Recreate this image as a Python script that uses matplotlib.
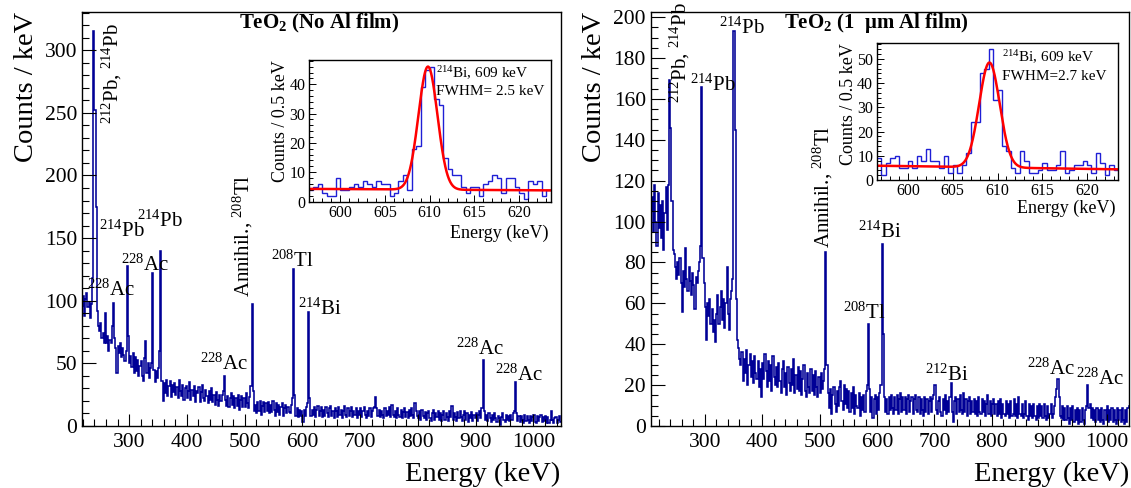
import numpy as np
import matplotlib
matplotlib.use("Agg")
import matplotlib.pyplot as plt
from matplotlib.ticker import MultipleLocator

plt.rcParams['font.family'] = ['Liberation Serif', 'DejaVu Serif']
plt.rcParams['mathtext.fontset'] = 'custom'
plt.rcParams['mathtext.rm'] = 'Liberation Serif'
plt.rcParams['mathtext.it'] = 'Liberation Serif:italic'
plt.rcParams['mathtext.bf'] = 'Liberation Serif:bold'

# ---------------- spectra (counts / keV, 2 keV bins) ----------------
BIN_WIDTH = 2.0

no_al_start = 218.0
no_al_counts = [
    96, 104, 88, 101, 106, 95, 99, 86, 97, 118,        # 218
    315, 252, 175, 92, 80, 76, 82, 70, 74, 66,         # 238
    90, 66, 72, 60, 69, 66, 80, 98, 70, 62,            # 258
    42, 64, 58, 66, 55, 62, 57, 52, 60, 128,           # 278
    72, 50, 56, 47, 58, 42, 55, 44, 53, 40,            # 298
    48, 52, 40, 36, 54, 68, 42, 50, 38, 46,            # 318
    50, 122, 45, 35, 44, 38, 46, 60, 140, 36,          # 338
    20, 34, 26, 37, 24, 32, 36, 23, 33, 27,            # 358
    34, 25, 31, 22, 37, 28, 24, 33, 21, 30,            # 378
    32, 22, 28, 35, 21, 29, 24, 32, 19, 28,            # 398
    26, 31, 19, 27, 33, 22, 20, 29, 24, 18,            # 418
    28, 21, 30, 19, 25, 17, 27, 21, 16, 25,            # 438
    20, 25, 28, 40, 21, 16, 24, 15, 22, 26,            # 458
    17, 24, 14, 22, 16, 25, 13, 21, 24, 15,            # 478
    22, 15, 26, 18, 14, 23, 32, 97, 28, 12,            # 498
    17, 10, 19, 12, 20, 9, 16, 19, 11, 18,             # 518
    12, 19, 10, 17, 11, 20, 13, 8, 18, 11,             # 538
    17, 9, 15, 18, 8, 14, 17, 10, 15, 11,              # 558
    10, 17, 22, 125, 25, 8, 14, 7, 13, 8,              # 578
    12, 3, 13, 8, 15, 18, 91, 22, 8, 13,               # 598
    9, 15, 7, 13, 16, 8, 12, 15, 7, 13,                # 618
    8, 15, 10, 7, 14, 16, 8, 12, 6, 14,                # 638
    12, 7, 15, 9, 13, 6, 12, 16, 9, 7,                 # 658
    14, 8, 12, 15, 7, 12, 9, 14, 6, 12,                # 678
    9, 14, 7, 12, 15, 9, 6, 12, 8, 14,                 # 698
    7, 12, 14, 15, 23, 14, 8, 13, 7, 12,               # 718
    9, 6, 14, 8, 12, 9, 15, 7, 17, 9,                  # 738
    7, 12, 6, 14, 9, 7, 13, 6, 11, 14,                 # 758
    7, 11, 6, 13, 8, 14, 9, 6, 18, 12,                 # 778
    8, 6, 12, 5, 13, 8, 6, 11, 5, 10,                  # 798
    12, 6, 4, 10, 13, 5, 10, 7, 12, 5,                 # 818
    10, 4, 9, 12, 5, 10, 7, 4, 12, 7,                  # 838
    16, 5, 10, 7, 4, 11, 6, 12, 7, 4,                  # 858
    9, 12, 5, 10, 3, 9, 6, 11, 4, 9,                   # 878
    6, 10, 4, 9, 12, 6, 14, 53, 12, 5,                 # 898
    9, 4, 10, 6, 3, 9, 5, 10, 6, 3,                    # 918
    8, 6, 1, 7, 10, 5, 3, 9, 5, 8,                     # 938
    4, 9, 5, 10, 12, 35, 10, 4, 8, 3,                  # 958
    8, 5, 2, 9, 4, 8, 5, 2, 8, 4,                      # 978
    7, 9, 3, 2, 8, 4, 7, 9, 3, 7,                      # 998
    4, 8, 2, 7, 2, 5, 12, 5, 2, 6,                     # 1018
    7, 2, 5, 8, 3,                                     # 1038
]

al_start = 206.0
al_counts = [
    105, 112, 95, 118, 100, 88, 114, 97, 108, 92,      # 206
    110, 86, 104, 117, 96, 118, 169, 146, 110, 86,     # 226
    84, 78, 72, 80, 74, 82, 70, 56, 76, 68,            # 246
    87, 72, 66, 78, 71, 64, 75, 69, 57, 73,            # 266
    70, 76, 80, 88, 166, 82, 70, 58, 42, 60,           # 286
    54, 62, 50, 57, 46, 52, 41, 55, 64, 50,            # 306
    58, 66, 52, 62, 48, 60, 78, 55, 47, 62,            # 326
    66, 72, 193, 145, 62, 42, 38, 33, 30, 36,          # 346
    22, 33, 26, 37, 20, 30, 35, 24, 32, 21,            # 366
    34, 26, 23, 32, 19, 28, 14, 31, 23, 35,            # 386
    27, 19, 32, 22, 30, 17, 34, 24, 20, 29,            # 406
    19, 31, 22, 16, 28, 32, 19, 26, 15, 29,            # 426
    21, 17, 28, 20, 33, 16, 25, 18, 29, 17,            # 446
    27, 15, 23, 30, 17, 14, 26, 19, 16, 28,            # 466
    17, 25, 15, 27, 19, 14, 24, 16, 26, 18,            # 486
    22, 28, 85, 30, 16, 9, 18, 6, 15, 19,              # 506
    11, 7, 17, 10, 19, 22, 12, 8, 20, 11,              # 526
    18, 9, 17, 7, 16, 9, 19, 6, 15, 10,                # 546
    9, 16, 5, 14, 8, 15, 7, 17, 20, 50,                # 566
    18, 7, 14, 4, 13, 15, 6, 14, 8, 16,                # 586
    20, 89, 45, 14, 7, 13, 6, 14, 8, 15,               # 606
    9, 6, 14, 8, 15, 6, 13, 16, 7, 14,                 # 626
    8, 14, 6, 13, 15, 7, 12, 14, 6, 13,                # 646
    15, 8, 7, 14, 6, 13, 8, 5, 14, 7,                  # 666
    13, 6, 12, 14, 7, 13, 15, 20, 8, 6,                # 686
    12, 14, 7, 5, 13, 8, 15, 6, 12, 7,                 # 706
    14, 21, 7, 2, 12, 14, 6, 13, 7, 15,                # 726
    8, 6, 16, 7, 13, 5, 12, 14, 6, 12,                 # 746
    7, 13, 6, 12, 5, 14, 7, 6, 13, 7,                  # 766
    12, 5, 11, 15, 6, 12, 5, 11, 13, 6,                # 786
    11, 5, 12, 6, 13, 4, 11, 6, 5, 12,                 # 806
    6, 11, 4, 12, 5, 6, 13, 5, 11, 4,                  # 826
    14, 6, 5, 11, 4, 6, 12, 5, 3, 11,                  # 846
    5, 10, 4, 11, 5, 3, 10, 4, 11, 5,                  # 866
    10, 4, 11, 5, 3, 10, 4, 6, 11, 4,                  # 886
    6, 10, 14, 18, 23, 14, 5, 4, 10, 3,                # 906
    9, 3, 10, 4, 1, 9, 3, 10, 2, 8,                    # 926
    3, 9, 1, 8, 2, 9, 3, 1, 8, 10,                     # 946
    20, 9, 11, 4, 9, 3, 8, 2, 9, 3,                    # 966
    8, 2, 9, 3, 1, 8, 3, 10, 2, 8,                     # 986
    3, 9, 2, 8, 3, 1, 9, 3, 8, 2,                      # 1006
    9, 3, 1, 8, 2, 9, 10,                              # 1026
]

# ---------------- 609 keV zoom (counts / 0.5 keV) ----------------
INSET_BIN = 0.5
inset_start = 596.5
no_al_inset = [
    4, 5, 6, 3, 2, 2, 8, 4, 4, 5,
    6, 5, 7, 6, 5, 7, 6, 6, 2, 3,
    7, 9, 4, 18, 19, 39, 45, 46, 35, 33,
    15, 11, 9, 9, 5, 3, 5, 5, 2, 6,
    7, 9, 8, 3, 8, 8, 5, 3, 1, 7,
    6, 7, 2, 4,
]
al_inset = [
    9, 2, 7, 9, 10, 5, 5, 8, 5, 10,
    8, 13, 8, 8, 5, 10, 3, 6, 3, 6,
    11, 24, 24, 44, 46, 54, 33, 37, 14, 12,
    5, 3, 12, 8, 3, 3, 4, 7, 4, 4,
    6, 12, 3, 4, 6, 6, 8, 6, 3, 11,
    7, 2, 6, 4,
]

# Gaussian + linear background fit results
no_al_fit = {"mean": 609.8, "amp": 42.0, "fwhm": 2.5, "bg_lo": 4.3, "bg_hi": 3.8}
al_fit = {"mean": 609.1, "amp": 43.3, "fwhm": 2.7, "bg_lo": 5.9, "bg_hi": 4.4}

# ---------------- peak annotations ----------------
no_al_labels = ["$^{212}$Pb, $^{214}$Pb", "$^{214}$Pb", "$^{214}$Pb", "$^{228}$Ac",
                "$^{228}$Ac", "Annihil., $^{208}$Tl", "$^{208}$Tl", "$^{214}$Bi",
                "$^{228}$Ac", "$^{228}$Ac", "$^{228}$Ac"]
no_al_label_xy = [(270, 241, 90), (248, 150.8, 0), (313.7, 158.7, 0), (285.6, 124.2, 0),
                  (228, 104.3, 0), (497.7, 103, 90), (546.4, 126.9, 0), (592, 88.4, 0),
                  (423.2, 44.6, 0), (865.5, 56.5, 0), (934.3, 36, 0)]

al_labels = ["$^{212}$Pb, $^{214}$Pb", "$^{214}$Pb", "$^{214}$Pb", "Annihil., $^{208}$Tl",
             "$^{208}$Tl", "$^{214}$Bi", "$^{212}$Bi", "$^{228}$Ac", "$^{228}$Ac"]
al_label_xy = [(257, 157.8, 90), (274.4, 163.8, 0), (324.7, 191.6, 0), (505.4, 87.3, 90),
               (540.5, 52.4, 0), (567, 92.1, 0), (683.3, 21.9, 0), (861.2, 25.2, 0),
               (945.6, 20.3, 0)]

SPEC_COLOR = "#000096"
INSET_COLOR = "#1f1fd6"
FIT_COLOR = "#ff0000"

W, H = 1131, 488
fig = plt.figure(figsize=(W / 100, H / 100), dpi=100)


def style_axes(ax, xmaj, xmin, ymaj, ymin, big=True):
    for s in ax.spines.values():
        s.set_linewidth(1.0)
    ax.xaxis.set_major_locator(MultipleLocator(xmaj))
    ax.xaxis.set_minor_locator(MultipleLocator(xmin))
    ax.yaxis.set_major_locator(MultipleLocator(ymaj))
    ax.yaxis.set_minor_locator(MultipleLocator(ymin))
    if big:
        ax.tick_params(axis='both', which='both', direction='in', top=False, right=False,
                       labelsize=15.5, width=0.8)
        ax.tick_params(axis='y', which='major', length=10, pad=3.5)
        ax.tick_params(axis='y', which='minor', length=5)
        ax.tick_params(axis='x', which='major', length=9, pad=5)
        ax.tick_params(axis='x', which='minor', length=5)
    else:
        ax.tick_params(axis='both', which='both', direction='in', top=False, right=False,
                       labelsize=11.5, width=0.7)
        ax.tick_params(axis='both', which='major', length=5, pad=2.5)
        ax.tick_params(axis='both', which='minor', length=2.8)


def main_panel(rect, start, counts, xlim, ymaj, ymin, title, labels, label_xy):
    ax = fig.add_axes(rect)
    counts = np.asarray(counts, dtype=float)
    edges = start + BIN_WIDTH * np.arange(len(counts) + 1)
    ax.stairs(counts, edges, color=SPEC_COLOR, lw=1.15, baseline=None)
    ax.set_xlim(*xlim)
    ax.set_ylim(0, 1.05 * counts.max())
    style_axes(ax, 100, 20, ymaj, ymin, big=True)
    ax.text(-0.103, 1.0, "Counts / keV", transform=ax.transAxes, rotation=90,
            rotation_mode='anchor', ha='right', va='baseline', fontsize=20.5)
    ax.text(1.0, -0.133, "Energy (keV)", transform=ax.transAxes,
            ha='right', va='baseline', fontsize=20.5)
    ax.text(title[1], 0.972, title[0], transform=ax.transAxes, ha='center',
            va='center', fontsize=15, fontweight='bold')
    for txt, (x, y, rot) in zip(labels, label_xy):
        if rot:
            ax.text(x, y, txt, rotation=rot, ha='center', va='bottom', fontsize=15)
        else:
            ax.text(x, y, txt, ha='left', va='baseline', fontsize=15)
    return ax


def inset_panel(rect, counts, fit, ymaj, ymin, txt_pos, fwhm_txt):
    ax = fig.add_axes(rect)
    ax.set_facecolor('white')
    counts = np.asarray(counts, dtype=float)
    edges = inset_start + INSET_BIN * np.arange(len(counts) + 1)
    ax.stairs(counts, edges, color=INSET_COLOR, lw=1.0, baseline=None)
    x = np.linspace(edges[0], edges[-1], 800)
    sigma = fit["fwhm"] / (2.0 * np.sqrt(2.0 * np.log(2.0)))
    bg = fit["bg_lo"] + (fit["bg_hi"] - fit["bg_lo"]) * (x - edges[0]) / (edges[-1] - edges[0])
    ax.plot(x, bg + fit["amp"] * np.exp(-0.5 * ((x - fit["mean"]) / sigma) ** 2),
            color=FIT_COLOR, lw=1.8)
    ax.set_xlim(edges[0], edges[-1])
    ax.set_ylim(0, 1.05 * counts.max())
    style_axes(ax, 5, 1, ymaj, ymin, big=False)
    ax.text(-0.1, 1.0, "Counts / 0.5 keV", transform=ax.transAxes, rotation=90,
            rotation_mode='anchor', ha='right', va='baseline', fontsize=13)
    ax.text(0.99, txt_pos[2], "Energy (keV)", transform=ax.transAxes,
            ha='right', va='baseline', fontsize=13)
    ax.text(txt_pos[0], txt_pos[1][0], "$^{214}$Bi, 609 keV", transform=ax.transAxes,
            ha='left', va='baseline', fontsize=11)
    ax.text(txt_pos[0], txt_pos[1][1], fwhm_txt, transform=ax.transAxes,
            ha='left', va='baseline', fontsize=11)
    return ax


main_panel([82.3 / W, 62 / H, 478.3 / W, 414.3 / H], no_al_start, no_al_counts,
           (219, 1047), 50, 10, ("TeO$_\\mathbf{2}$ (No Al film)", 0.496),
           no_al_labels, no_al_label_xy)
main_panel([650.7 / W, 62 / H, 478.5 / W, 414.3 / H], al_start, al_counts,
           (206, 1039), 20, 5, ("TeO$_\\mathbf{2}$ (1  μm Al film)", 0.471),
           al_labels, al_label_xy)

inset_panel([309 / W, (H - 201.5) / H, 241.5 / W, 141.5 / H], no_al_inset, no_al_fit,
            10, 2, (0.525, (0.87, 0.755), -0.26), "FWHM= 2.5 keV")
inset_panel([876.7 / W, (H - 180) / H, 241.6 / W, 137.3 / H], al_inset, al_fit,
            10, 2, (0.52, (0.855, 0.725), -0.243), "FWHM=2.7 keV")

fig.savefig("out.png", dpi=100)
